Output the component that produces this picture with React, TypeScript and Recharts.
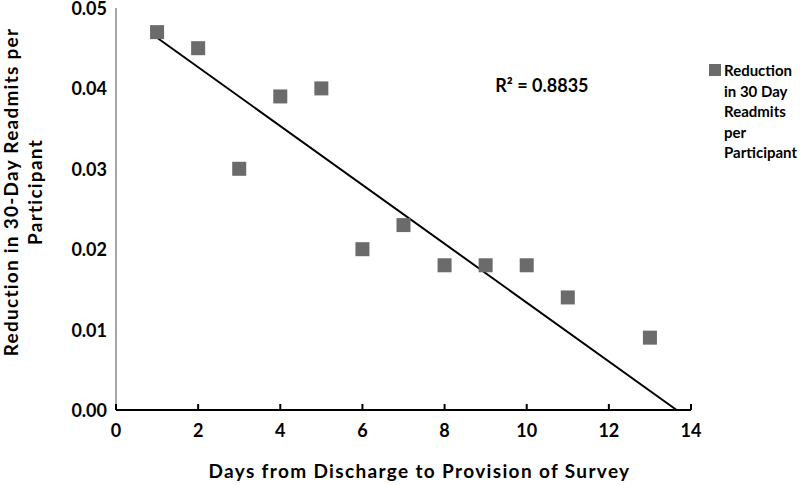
import React from 'react';
import { ScatterChart, Scatter, XAxis, YAxis, ReferenceLine, ReferenceDot, Legend } from 'recharts';

const days = [1, 2, 3, 4, 5, 6, 7, 8, 9, 10, 11, 13];
const reduction = [0.047, 0.045, 0.03, 0.039, 0.04, 0.02, 0.023, 0.018, 0.018, 0.018, 0.014, 0.009];
const xTicks = [0, 2, 4, 6, 8, 10, 12, 14];
const yTicks = [0, 0.01, 0.02, 0.03, 0.04, 0.05];
const trendStart = { x: 1, y: 0.0463 };
const trendEnd = { x: 13.65, y: 0 };
const seriesName = 'Reduction in 30 Day Readmits per Participant';
const legendLines = ['Reduction', 'in 30 Day', 'Readmits', 'per', 'Participant'];
const r2Label = 'R² = 0.8835';
const r2Pos = { x: 10.37, y: 0.0403 };
const xTitle = 'Days from Discharge to Provision of Survey';
const yTitleLines = ['Reduction in 30-Day Readmits per', 'Participant'];

const data = days.map((d, i) => ({ x: d, y: reduction[i] }));

const FONT = 'Lato, "Open Sans", sans-serif';
const MARKER = '#6b6b6b';

const SquareShape = (props: any) => {
  const { cx, cy } = props;
  if (cx == null || cy == null) return null;
  return <rect x={cx - 7} y={cy - 7} width={14} height={14} fill={MARKER} />;
};

const XTick = (props: any) => {
  const { x, y, payload } = props;
  return (
    <g>
      <line x1={x} x2={x} y1={y - 6} y2={y} stroke="#000" strokeWidth={2} />
      <text x={x} y={y + 27} textAnchor="middle" fill="#000" fontSize={18} fontWeight={700} fontFamily={FONT}>
        {payload.value}
      </text>
    </g>
  );
};

const YTick = (props: any) => {
  const { x, y, payload } = props;
  return (
    <text x={x} y={y + 7} textAnchor="end" fill="#000" fontSize={18} fontWeight={700} fontFamily={FONT}>
      {Number(payload.value).toFixed(2)}
    </text>
  );
};

const XTitle = (props: any) => {
  const vb = props.viewBox || { x: 116, y: 410, width: 575, height: 75 };
  return (
    <text x={vb.x + vb.width / 2 + 16} y={vb.y + 68} textAnchor="middle" fill="#000" fontSize={19} fontWeight={700} fontFamily={FONT} letterSpacing={1.35}>
      {xTitle}
    </text>
  );
};

const YTitle = (props: any) => {
  const vb = props.viewBox || { x: 0, y: 8, width: 116, height: 402 };
  const cy = vb.y + vb.height / 2 - 17;
  const x1 = vb.x + 18;
  const x2 = vb.x + 42;
  return (
    <g>
      <text x={x1} y={cy} transform={`rotate(-90, ${x1}, ${cy})`} textAnchor="middle" fill="#000" fontSize={19} fontWeight={700} fontFamily={FONT} letterSpacing={1.25}>
        {yTitleLines[0]}
      </text>
      <text x={x2} y={cy} transform={`rotate(-90, ${x2}, ${cy})`} textAnchor="middle" fill="#000" fontSize={19} fontWeight={700} fontFamily={FONT} letterSpacing={1.25}>
        {yTitleLines[1]}
      </text>
    </g>
  );
};

const R2 = (props: any) => {
  const vb = props.viewBox || { x: 0, y: 0, width: 0, height: 0 };
  const cx = vb.x + (vb.width || 0) / 2;
  const cy = vb.y + (vb.height || 0) / 2;
  return (
    <text x={cx} y={cy + 6} textAnchor="middle" fill="#000" fontSize={18} fontWeight={700} fontFamily={FONT}>
      {r2Label}
    </text>
  );
};

const LegendContent = () => (
  <div style={{ position: 'relative', fontFamily: FONT, fontWeight: 700, fontSize: 15, color: '#000', lineHeight: '20.5px' }} title={seriesName}>
    <div style={{ position: 'absolute', left: 0, top: 4, width: 12, height: 12, background: MARKER }} />
    <div style={{ marginLeft: 15, whiteSpace: 'nowrap' }}>
      {legendLines.map((l, i) => (
        <div key={i}>{l}</div>
      ))}
    </div>
  </div>
);

export default function App() {
  return (
    <div style={{ position: 'absolute', left: 0, top: 0, width: 800, height: 485, background: '#fff' }}>
      <ScatterChart width={800} height={485} margin={{ top: 8, right: 109, bottom: 0, left: 0 }} style={{ fontFamily: FONT }}>
        <XAxis
          type="number"
          dataKey="x"
          domain={[0, 14]}
          ticks={xTicks}
          interval={0}
          height={75}
          tickSize={0}
          tickMargin={0}
          tickLine={false}
          axisLine={{ stroke: '#000', strokeWidth: 2 }}
          tick={<XTick />}
          label={<XTitle />}
        />
        <YAxis
          type="number"
          dataKey="y"
          domain={[0, 0.05]}
          ticks={yTicks}
          interval={0}
          width={116}
          tickSize={0}
          tickMargin={9}
          tickLine={false}
          axisLine={{ stroke: '#8a8a8a', strokeWidth: 1.5 }}
          tick={<YTick />}
          label={<YTitle />}
        />
        <ReferenceLine
          segment={[trendStart, trendEnd]}
          stroke="#000"
          strokeWidth={2}
          ifOverflow="visible"
        />
        <Scatter name={seriesName} data={data} fill={MARKER} shape={<SquareShape />} isAnimationActive={false} />
        <ReferenceDot x={r2Pos.x} y={r2Pos.y} r={1} fill="none" stroke="none" label={<R2 />} />
        <Legend layout="vertical" align="center" verticalAlign="middle" wrapperStyle={{ left: 709, top: 60, width: 95 }} content={<LegendContent />} />
      </ScatterChart>
    </div>
  );
}
